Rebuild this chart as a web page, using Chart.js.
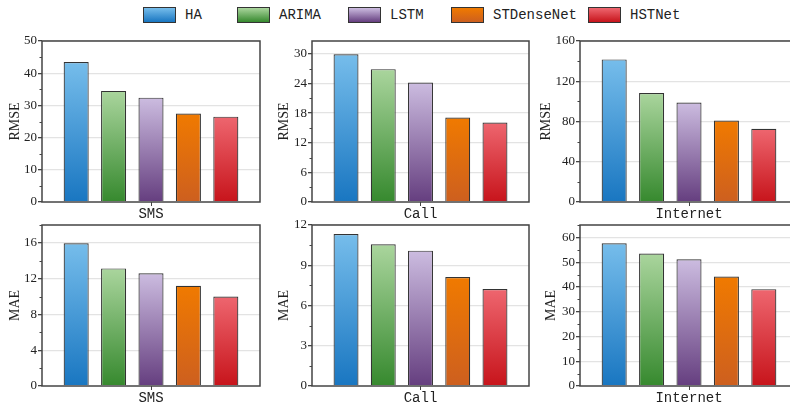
<!DOCTYPE html>
<html lang="en">
<head>
<meta charset="UTF-8" />
<title>RMSE / MAE comparison</title>
<style>
  body { margin: 0; background: #fff; }
  .page { position: relative; width: 790px; height: 411px; overflow: hidden; background: #fff; }
  .page canvas { position: absolute; }
  .legend-item { position: absolute; top: 0; height: 30px; font-family: 'Liberation Mono', monospace; font-size: 14px; color: #222; }
  .swatch { position: absolute; left: 0; top: 7px; width: 33px; height: 16px; border: 1px solid #333; box-sizing: border-box; }
  .legend-item span { position: absolute; left: 42px; top: 0; line-height: 30px; white-space: nowrap; }
</style>
</head>
<body>
<div class="page" id="page"></div>

<script src="https://cdn.jsdelivr.net/npm/chart.js"></script>
<script>
  // models (one bar each) and the three traffic datasets
  const models = ['HA', 'ARIMA', 'LSTM', 'STDenseNet', 'HSTNet'];
  const datasets = ['SMS', 'Call', 'Internet'];

  const rmseSMS = [43.5, 34.5, 32.4, 27.5, 26.5];
  const rmseCall = [29.9, 26.9, 24.2, 17.1, 16.1];
  const rmseInternet = [141.7, 108.2, 98.9, 81.0, 72.7];

  const maeSMS = [15.95, 13.15, 12.6, 11.2, 10.0];
  const maeCall = [11.33, 10.56, 10.09, 8.12, 7.23];
  const maeInternet = [57.6, 53.5, 51.2, 44.2, 39.1];

  // y axis ranges (max, major step)
  const rmseMax = [50, 32.6, 160];
  const rmseStep = [10, 6, 40];
  const maeMax = [18, 12, 65];
  const maeStep = [4, 3, 10];

  const topColors = ['#76bdeb', '#aad59d', '#ccbce0', '#f07a00', '#ee666f'];
  const bottomColors = ['#1976c1', '#36892e', '#653e7f', '#cd5f1f', '#c7141b'];

  const page = document.getElementById('page');

  // legend
  const legendX = [143, 237, 348, 451, 588];
  models.forEach((m, i) => {
    const item = document.createElement('div');
    item.className = 'legend-item';
    item.style.left = legendX[i] + 'px';
    const sw = document.createElement('div');
    sw.className = 'swatch';
    sw.style.background = `linear-gradient(to bottom, ${topColors[i]}, ${bottomColors[i]})`;
    const t = document.createElement('span');
    t.textContent = m;
    item.appendChild(sw);
    item.appendChild(t);
    page.appendChild(item);
  });

  // axes box + minor ticks
  const framePlugin = {
    id: 'frame',
    afterDraw(chart) {
      const { ctx, chartArea: a } = chart;
      const y = chart.scales.y;
      ctx.save();
      ctx.strokeStyle = '#444';
      ctx.lineWidth = 1.5;
      ctx.strokeRect(a.left, a.top, a.right - a.left, a.bottom - a.top);
      const half = chart.options.scales.y.ticks.stepSize / 2;
      ctx.lineWidth = 1;
      for (let v = half; v <= y.max + 1e-9; v += 2 * half) {
        const py = Math.round(y.getPixelForValue(v)) + 0.5;
        ctx.beginPath();
        ctx.moveTo(a.left - 2.5, py);
        ctx.lineTo(a.left, py);
        ctx.stroke();
      }
      ctx.restore();
    }
  };

  const panels = [
    { left: 0,   top: 31,  label: datasets[0], metric: 'RMSE', values: rmseSMS,      max: rmseMax[0], step: rmseStep[0], titlePad: 7, plotW: 218 },
    { left: 270, top: 31,  label: datasets[1], metric: 'RMSE', values: rmseCall,     max: rmseMax[1], step: rmseStep[1], titlePad: 6, plotW: 217 },
    { left: 538, top: 31,  label: datasets[2], metric: 'RMSE', values: rmseInternet, max: rmseMax[2], step: rmseStep[2], titlePad: 0, plotW: 218 },
    { left: 0,   top: 215, label: datasets[0], metric: 'MAE',  values: maeSMS,       max: maeMax[0],  step: maeStep[0],  titlePad: 7, plotW: 218 },
    { left: 270, top: 215, label: datasets[1], metric: 'MAE',  values: maeCall,      max: maeMax[1],  step: maeStep[1],  titlePad: 6, plotW: 217 },
    { left: 538, top: 215, label: datasets[2], metric: 'MAE',  values: maeInternet,  max: maeMax[2],  step: maeStep[2],  titlePad: 5, plotW: 218 }
  ];

  panels.forEach(p => {
    const canvas = document.createElement('canvas');
    const w = 42 + p.plotW + 6;
    const h = 10 + 161 + 20;
    canvas.width = w;
    canvas.height = h;
    canvas.style.left = p.left + 'px';
    canvas.style.top = p.top + 'px';
    canvas.style.width = w + 'px';
    canvas.style.height = h + 'px';
    page.appendChild(canvas);

    new Chart(canvas, {
      type: 'bar',
      data: {
        labels: [p.label],
        datasets: models.map((m, i) => ({
          label: m,
          data: [p.values[i]],
          borderColor: '#333',
          borderWidth: 1.2,
          categoryPercentage: 0.858,
          barPercentage: 0.67,
          backgroundColor(c) {
            const chart = c.chart;
            if (!chart.chartArea || c.type !== 'data') return topColors[i];
            const y = chart.scales.y;
            const g = chart.ctx.createLinearGradient(0, y.getPixelForValue(c.raw), 0, y.getPixelForValue(0));
            g.addColorStop(0, topColors[i]);
            g.addColorStop(1, bottomColors[i]);
            return g;
          }
        }))
      },
      options: {
        responsive: false,
        animation: false,
        devicePixelRatio: 1,
        layout: { padding: { top: 10, right: 6, left: 0, bottom: 0 } },
        plugins: { legend: { display: false }, tooltip: { enabled: false } },
        scales: {
          x: {
            offset: true,
            border: { display: false },
            grid: { offset: false, drawOnChartArea: false, drawTicks: true, tickLength: 4, tickColor: '#444' },
            ticks: { padding: 0, color: '#222', font: { family: 'Liberation Mono', size: 14 } },
            afterFit(s) { s.height = 20; }
          },
          y: {
            min: 0,
            max: p.max,
            border: { display: false },
            grid: {
              color: c => (c.tick && c.tick.value === 0) ? 'rgba(0,0,0,0)' : '#e3e3e3',
              lineWidth: 1.3,
              drawTicks: true,
              tickLength: 4,
              tickColor: '#444'
            },
            ticks: {
              stepSize: p.step,
              includeBounds: false,
              padding: 1,
              color: '#222',
              font: { family: 'Liberation Serif', size: 13 }
            },
            title: {
              display: true,
              text: p.metric,
              color: '#222',
              padding: { top: p.titlePad, bottom: 0 },
              font: { family: 'Liberation Serif', size: 14 }
            },
            afterFit(s) { s.width = 42; }
          }
        }
      },
      plugins: [framePlugin]
    });
  });
</script>
</body>
</html>
